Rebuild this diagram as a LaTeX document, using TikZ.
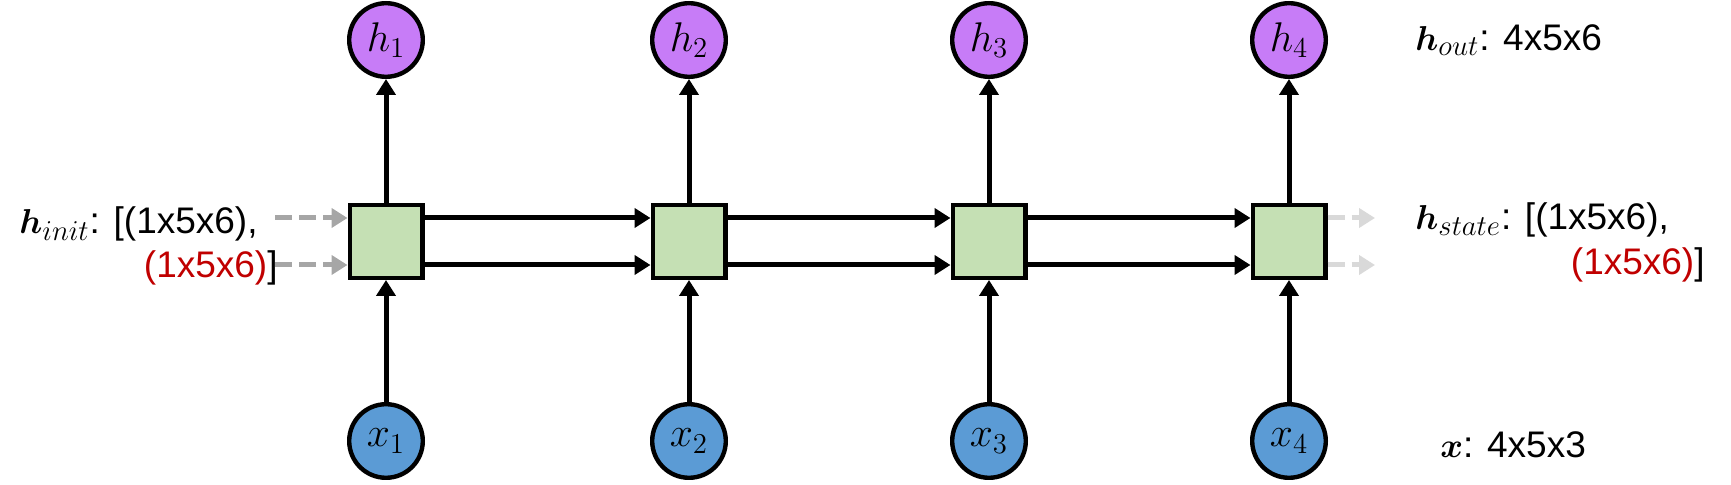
\documentclass[tikz,border=0pt]{standalone}
\usepackage{fontspec}
\setmainfont{Liberation Sans}
\usepackage{amsmath,bm}
\usetikzlibrary{arrows.meta}
\DeclareMathSizes{18.5}{18.5}{14}{10}
\DeclareMathSizes{20}{20}{15}{11}

\definecolor{cellgreen}{HTML}{C5E0B4}
\definecolor{outpurple}{HTML}{C77CF7}
\definecolor{inblue}{HTML}{5B9BD5}
\definecolor{dimred}{HTML}{C00000}
\definecolor{initgray}{HTML}{A6A6A6}
\definecolor{stategray}{HTML}{D9D9D9}

\tikzset{>={Triangle[length=8pt,width=9.5pt]}}

\begin{document}
\begin{tikzpicture}[x=0.5pt,y=-0.5pt,
    font=\fontsize{18.5}{22}\selectfont,
    cell/.style={draw,line width=2.2pt,fill=cellgreen,minimum size=36.3pt,inner sep=0pt},
    unit/.style={circle,draw,line width=2.2pt,minimum size=36.8pt,inner sep=0pt,
      font=\fontsize{20}{22}\selectfont},
    link/.style={->,line width=2.5pt},
    ghost/.style={->,line width=2.5pt,dash pattern=on 8.5pt off 3.5pt},
    dims/.style={inner sep=0pt}]
  \useasboundingbox (0,0) rectangle (1731,485);

  % cells with inputs and outputs
  \foreach \i/\x in {1/386,2/689,3/989,4/1289} {%
    \node[cell] (c\i) at (\x,241.5) {};
    \node[unit,fill=outpurple] (h\i) at (\x,40) {$h_{\i}$};
    \node[unit,fill=inblue] (x\i) at (\x,441) {$x_{\i}$};
    \draw[link] (x\i) -- (c\i);
    \draw[link] (c\i) -- (h\i);
  }
  \foreach \i/\j in {1/2,2/3,3/4} {%
    \draw[link] ([yshift=11.75pt]c\i.east) -- ([yshift=11.75pt]c\j.west);
    \draw[link] ([yshift=-11.75pt]c\i.east) -- ([yshift=-11.75pt]c\j.west);
  }

  % initial and final states
  \coordinate (inA) at (275,218);
  \coordinate (inB) at (275,265);
  \coordinate (outA) at (1375,218);
  \coordinate (outB) at (1375,265);
  \draw[ghost,initgray] (inA) -- (c1.west |- inA);
  \draw[ghost,initgray] (inB) -- (c1.west |- inB);
  \draw[ghost,stategray] (c4.east |- outA) -- (outA);
  \draw[ghost,stategray] (c4.east |- outB) -- (outB);

  % shapes
  \node[dims,anchor=east] (init1) at (258,224) {$\bm{h}_{init}$: [(1x5x6),};
  \node[dims,anchor=east] (init2) at (278,268) {\textcolor{dimred}{(1x5x6)}]};
  \node[dims,anchor=west] (state1) at (1415,220) {$\bm{h}_{state}$: [(1x5x6),};
  \node[dims,anchor=east] (state2) at (1705,265) {\textcolor{dimred}{(1x5x6)}]};
  \node[dims,anchor=west] (hout) at (1415,40) {$\bm{h}_{out}$: 4x5x6};
  \node[dims,anchor=west] (xin) at (1440,445) {$\bm{x}$: 4x5x3};
\end{tikzpicture}
\end{document}
